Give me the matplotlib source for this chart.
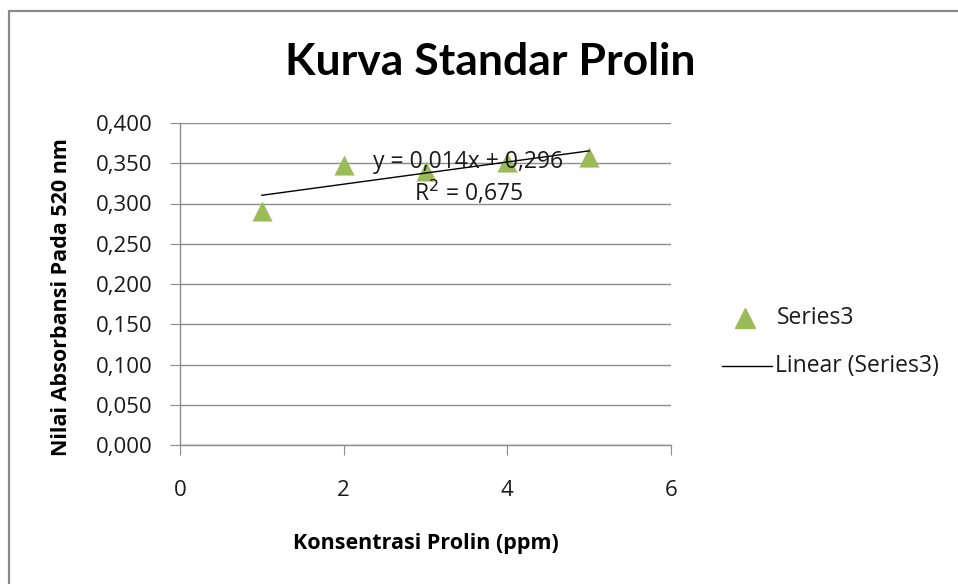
import numpy as np
import matplotlib
matplotlib.use("Agg")
import matplotlib.pyplot as plt
from matplotlib.patches import Rectangle
from matplotlib.lines import Line2D

plt.rcParams['font.family'] = ['Open Sans', 'DejaVu Sans']

x_vals = [1, 2, 3, 4, 5]
y_vals = [0.291, 0.348, 0.340, 0.352, 0.358]
y_ticks = [0.0, 0.05, 0.10, 0.15, 0.20, 0.25, 0.30, 0.35, 0.40]
x_ticks = [0, 2, 4, 6]
title = "Kurva Standar Prolin"
xlabel = "Konsentrasi Prolin (ppm)"
ylabel = "Nilai Absorbansi Pada 520 nm"
eq_text = "y = 0,014x + 0,296"
r2_text = "R$^2$ = 0,675"
series_name = "Series3"
trend_name = "Linear (Series3)"

W, H = 958, 584
fig = plt.figure(figsize=(W / 100, H / 100), dpi=100)
fig.patch.set_facecolor('white')

# outer chart border
fig.add_artist(Rectangle((9 / W, -0.01), 1.02, 1 - 11 / H + 0.01, transform=fig.transFigure,
                         fill=False, edgecolor='#8a8a8a', linewidth=1.6))

ax = fig.add_axes([180 / W, 1 - 445 / H, (671 - 180) / W, (445 - 123) / H])
ax.set_xlim(0, 6)
ax.set_ylim(0, 0.4)
ax.set_xticks(x_ticks)
ax.set_yticks(y_ticks)
ax.set_xticklabels([str(t) for t in x_ticks])
ax.set_yticklabels([f"{t:.3f}".replace('.', ',') for t in y_ticks])
ax.grid(axis='y', color='#8c8c8c', linewidth=1.0)
ax.set_axisbelow(True)
for s in ['top', 'right']:
    ax.spines[s].set_visible(False)
for s in ['left', 'bottom']:
    ax.spines[s].set_color('#8c8c8c')
    ax.spines[s].set_linewidth(1.0)
ax.tick_params(axis='both', direction='out', length=7, color='#8c8c8c', labelsize=16,
               labelcolor='black')
ax.tick_params(axis='x', pad=18)
ax.tick_params(axis='y', pad=13)
for lbl in ax.get_xticklabels() + ax.get_yticklabels():
    lbl.set_color('#1a1a1a')

ax.scatter(x_vals, y_vals, marker='^', s=210, color='#9bbb59', zorder=3, linewidths=0)

coef = np.polyfit(x_vals, y_vals, 1)
xf = np.array([min(x_vals), max(x_vals)])
ax.plot(xf, np.polyval(coef, xf), color='black', linewidth=1.0, zorder=4)

ax.text(3.52, 0.352, eq_text, ha='center', va='center', fontsize=16.5, color='#1a1a1a', zorder=5)
ax.text(3.52, 0.313, r2_text, ha='center', va='center', fontsize=16.5, color='#1a1a1a', zorder=5)

fig.text(490 / W, 1 - 62 / H, title, ha='center', va='center', fontsize=32, fontweight='bold',
         family=['Lato', 'DejaVu Sans'])
fig.text(426 / W, 1 - 543 / H, xlabel, ha='center', va='center', fontsize=15.5, fontweight='bold')
fig.text(62 / W, 1 - 297 / H, ylabel, ha='center', va='center', rotation=90, fontsize=15.5,
         fontweight='bold')

# legend
fig.add_artist(Line2D([745 / W], [1 - 318 / H], marker='^', markersize=14, color='#9bbb59',
                      linestyle='none', transform=fig.transFigure))
fig.text(777 / W, 1 - 318 / H, series_name, ha='left', va='center', fontsize=16.5, color='#1a1a1a')
fig.add_artist(Line2D([722 / W, 772 / W], [1 - 366 / H, 1 - 366 / H], color='black', linewidth=1.0,
                      transform=fig.transFigure))
fig.text(775 / W, 1 - 366 / H, trend_name, ha='left', va='center', fontsize=16.5, color='#1a1a1a')

fig.savefig('out.png', dpi=100)
